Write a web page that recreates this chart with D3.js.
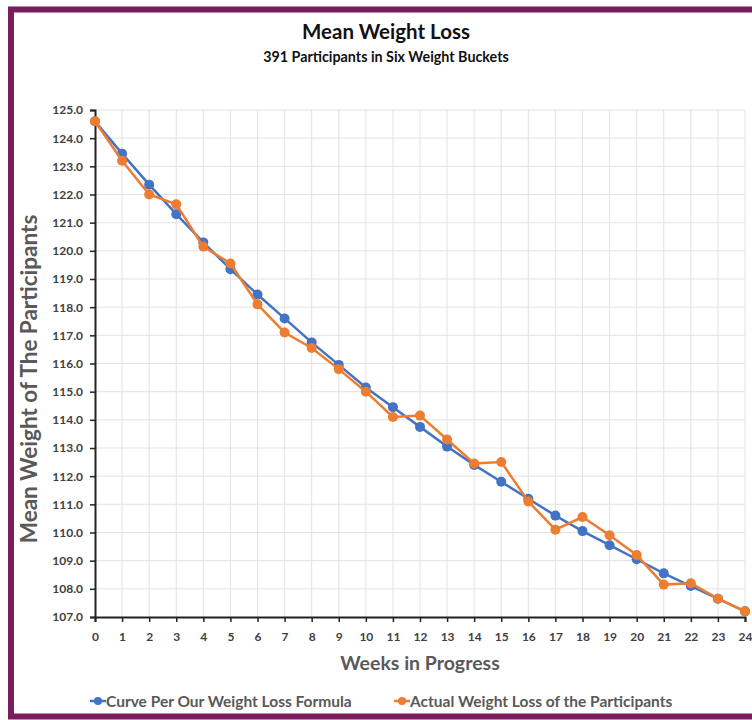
<!DOCTYPE html>
<html><head><meta charset="utf-8">
<script src="https://cdn.jsdelivr.net/npm/d3@7"></script>
<style>body{margin:0;background:#fff}svg{display:block}</style>
</head><body>
<script>
const weeks = d3.range(0, 25);
const formulaValues = [124.6,123.45,122.35,121.3,120.3,119.35,118.45,117.6,116.75,115.95,115.15,114.45,113.75,113.05,112.4,111.8,111.2,110.6,110.05,109.55,109.05,108.55,108.1,107.65,107.2];
const actualValues  = [124.6,123.2,122.0,121.65,120.15,119.55,118.1,117.1,116.55,115.8,115.0,114.1,114.15,113.3,112.45,112.5,111.1,110.1,110.55,109.9,109.2,108.15,108.2,107.65,107.2];
const seriesNames = ["Curve Per Our Weight Loss Formula", "Actual Weight Loss of the Participants"];
const yTicks = d3.range(107, 125.5, 1);
const xTicks = weeks;

const W = 752, H = 720;
const svg = d3.select("body").append("svg").attr("width", W).attr("height", H);
const font = "Lato, 'Open Sans', sans-serif";

// frame
svg.append("rect").attr("x", 11).attr("y", 9.5).attr("width", W + 20).attr("height", 707)
  .attr("fill", "none").attr("stroke", "#7a1d5c").attr("stroke-width", 6);

const x = d3.scaleLinear().domain([0, 24]).range([95, 745]);
const y = d3.scaleLinear().domain([107, 125]).range([617, 110]);

// grid
svg.append("g").selectAll("line").data(yTicks.filter(d => d > 107)).join("line")
  .attr("x1", x(0)).attr("x2", x(24)).attr("y1", d => y(d)).attr("y2", d => y(d))
  .attr("stroke", "#e2e2e2").attr("stroke-width", 1);
svg.append("g").selectAll("line").data(xTicks.filter(d => d > 0)).join("line")
  .attr("y1", y(107)).attr("y2", y(125)).attr("x1", d => x(d)).attr("x2", d => x(d))
  .attr("stroke", "#e2e2e2").attr("stroke-width", 1);

// axes
const yAxis = svg.append("g").attr("transform", `translate(${x(0)},0)`)
  .call(d3.axisLeft(y).tickValues(yTicks).tickFormat(d3.format(".1f")).tickSize(5).tickPadding(7));
const xAxis = svg.append("g").attr("transform", `translate(0,${y(107)})`)
  .call(d3.axisBottom(x).tickValues(xTicks).tickFormat(d3.format("d")).tickSize(5).tickPadding(10));
[yAxis, xAxis].forEach(a => {
  a.select(".domain").attr("stroke", "#222").attr("stroke-width", 2);
  a.selectAll(".tick line").attr("stroke", "#222").attr("stroke-width", 1.5);
  a.selectAll("text").attr("fill", "#404040").attr("font-family", font)
    .attr("font-weight", "bold").attr("font-size", 12);
});

// series
const colors = ["#4472C4", "#ED7D31"];
const data = [formulaValues, actualValues];
const line = d3.line().x((d, i) => x(weeks[i])).y(d => y(d));
data.forEach((vals, k) => {
  const g = svg.append("g");
  g.append("path").datum(vals).attr("d", line).attr("fill", "none")
    .attr("stroke", colors[k]).attr("stroke-width", 2.5);
  g.selectAll("circle").data(vals).join("circle")
    .attr("cx", (d, i) => x(weeks[i])).attr("cy", d => y(d)).attr("r", 5)
    .attr("fill", colors[k]);
});

// titles
svg.append("text").attr("x", 386).attr("y", 39).attr("text-anchor", "middle")
  .attr("font-family", font).attr("font-weight", "bold").attr("font-size", 20.5)
  .attr("fill", "#111").text("Mean Weight Loss");
svg.append("text").attr("x", 386).attr("y", 62).attr("text-anchor", "middle")
  .attr("font-family", font).attr("font-weight", "bold").attr("font-size", 14.3)
  .attr("fill", "#111").text("391 Participants in Six Weight Buckets");

svg.append("text").attr("transform", "translate(37,379) rotate(-90)").attr("text-anchor", "middle")
  .attr("font-family", font).attr("font-weight", "bold").attr("font-size", 22.5)
  .attr("fill", "#595959").text("Mean Weight of The Participants");
svg.append("text").attr("x", 420).attr("y", 670).attr("text-anchor", "middle")
  .attr("font-family", font).attr("font-weight", "bold").attr("font-size", 19.5)
  .attr("fill", "#595959").text("Weeks in Progress");

// legend
const legX = [90, 394];
seriesNames.forEach((n, k) => {
  const g = svg.append("g").attr("transform", `translate(${legX[k]},701)`);
  g.append("line").attr("x1", 0).attr("x2", 16).attr("y1", 0).attr("y2", 0)
    .attr("stroke", colors[k]).attr("stroke-width", 2.5);
  g.append("circle").attr("cx", 8).attr("cy", 0).attr("r", 4).attr("fill", colors[k]);
  g.append("text").attr("x", 16).attr("y", 5.5).attr("font-family", font)
    .attr("font-weight", "bold").attr("font-size", 15.5).attr("fill", "#595959").text(n);
});
</script>
</body></html>
